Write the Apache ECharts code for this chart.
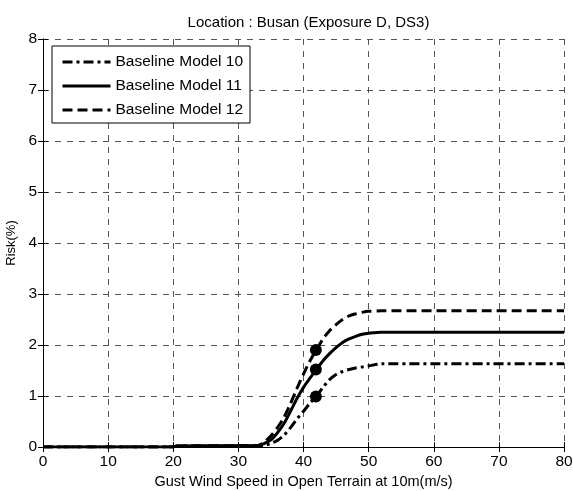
<!DOCTYPE html>
<html>
<head>
<meta charset="utf-8">
<script src="https://cdn.jsdelivr.net/npm/echarts@6/dist/echarts.min.js"></script>
<style>html,body{margin:0;padding:0;background:#fff}#c{width:573px;height:491px}</style>
</head>
<body>
<div id="c"></div>
<script>
var titleText = "Location : Busan (Exposure D, DS3)";
var xName = "Gust Wind Speed in Open Terrain at 10m(m/s)";
var yName = "Risk(%)";
var seriesNames = ["Baseline Model 10", "Baseline Model 11", "Baseline Model 12"];

var speed = [0, 20, 20.5, 33, 34, 35, 36, 37, 38, 39, 40, 41, 42, 43, 44, 45, 46, 47, 48, 49, 50, 52, 80];
var model10 = [0, 0, 0.02, 0.02, 0.03, 0.07, 0.13, 0.23, 0.38, 0.55, 0.7, 0.86, 1.0, 1.17, 1.32, 1.42, 1.48, 1.52, 1.55, 1.57, 1.59, 1.63, 1.63];
var model11 = [0, 0, 0.02, 0.03, 0.07, 0.14, 0.28, 0.46, 0.7, 0.95, 1.17, 1.35, 1.52, 1.69, 1.83, 1.95, 2.05, 2.12, 2.17, 2.21, 2.23, 2.25, 2.25];
var model12 = [0, 0, 0.02, 0.03, 0.1, 0.22, 0.38, 0.58, 0.85, 1.15, 1.43, 1.69, 1.91, 2.12, 2.28, 2.4, 2.5, 2.57, 2.61, 2.64, 2.66, 2.67, 2.67];

var markerX = [41.9, 41.9, 41.9];
var markerY = [0.99, 1.52, 1.9];

var xTicks = [0, 10, 20, 30, 40, 50, 60, 70, 80];
var yTicks = [0, 1, 2, 3, 4, 5, 6, 7, 8];

function pairs(xs, ys) { return xs.map(function (x, i) { return [x, ys[i]]; }); }

var font = "Liberation Sans, Arial, Helvetica, sans-serif";
var dashes = [[10, 4, 3, 4], "solid", [10, 5]];
var vals = [model10, model11, model12];

var series = seriesNames.map(function (n, i) {
  return {
    name: n, type: "line", data: pairs(speed, vals[i]), symbol: "none", smooth: 0.3,
    lineStyle: { color: "#000", width: 3, type: dashes[i] }, itemStyle: { color: "#000" },
    xAxisIndex: 0, yAxisIndex: 0, z: 3, animation: false
  };
});
series.push({
  name: "markers", type: "scatter", data: pairs(markerX, markerY), symbol: "circle", symbolSize: 12,
  itemStyle: { color: "#000", opacity: 1 }, xAxisIndex: 0, yAxisIndex: 0, z: 5, animation: false
});

var chart = echarts.init(document.getElementById("c"));
chart.setOption({
  animation: false,
  backgroundColor: "#fff",
  title: { text: titleText, left: 303.5, textAlign: "center", top: 10, textStyle: { fontFamily: font, fontSize: 15, fontWeight: "normal", color: "#000" } },
  legend: {
    data: seriesNames, orient: "vertical", left: 52, top: 46, itemWidth: 48, itemHeight: 14, itemGap: 8,
    backgroundColor: "#fff", borderColor: "#000", borderWidth: 1, padding: [8, 7, 5, 9],
    itemStyle: { opacity: 0 },
    lineStyle: { width: 3 },
    textStyle: { fontFamily: font, fontSize: 15.5, color: "#000" }, selectedMode: false
  },
  grid: { left: 43, right: 9, top: 39, bottom: 44, containLabel: false, outerBoundsMode: "none" },
  xAxis: [{
    type: "value", min: 0, max: 80, interval: 10, name: xName, nameLocation: "middle", nameGap: 27,
    nameTextStyle: { fontFamily: font, fontSize: 14.5, color: "#000" },
    axisLine: { lineStyle: { color: "#000", width: 1 } },
    axisTick: { inside: true, length: 5, lineStyle: { color: "#000" } },
    axisLabel: { fontFamily: font, fontSize: 15.5, color: "#000", margin: 7, formatter: function (v) { return xTicks.indexOf(v) >= 0 ? String(v) : ""; } },
    splitLine: { show: true, lineStyle: { color: "#555", width: 1, type: [6, 6] } }
  }, {
    type: "value", min: 0, max: 80, interval: 10, position: "top",
    axisLine: { show: true, lineStyle: { color: "#000", width: 1 } },
    axisTick: { inside: true, length: 5, lineStyle: { color: "#000" } },
    axisLabel: { show: false }, splitLine: { show: false }
  }],
  yAxis: [{
    type: "value", min: 0, max: 8, interval: 1, name: yName, nameLocation: "middle", nameGap: 22,
    nameTextStyle: { fontFamily: font, fontSize: 13, color: "#000" },
    axisLine: { show: true, lineStyle: { color: "#000", width: 1 } },
    axisTick: { show: true, inside: true, length: 5, lineStyle: { color: "#000" } },
    axisLabel: { fontFamily: font, fontSize: 15.5, color: "#000", margin: 6, formatter: function (v) { return yTicks.indexOf(v) >= 0 ? String(v) : ""; } },
    splitLine: { show: true, lineStyle: { color: "#555", width: 1, type: [6, 6] } }
  }, {
    type: "value", min: 0, max: 8, interval: 1, position: "right",
    axisLine: { show: true, lineStyle: { color: "#000", width: 1 } },
    axisTick: { show: true, inside: true, length: 5, lineStyle: { color: "#000" } },
    axisLabel: { show: false }, splitLine: { show: false }
  }],
  series: series
});
</script>
</body>
</html>
